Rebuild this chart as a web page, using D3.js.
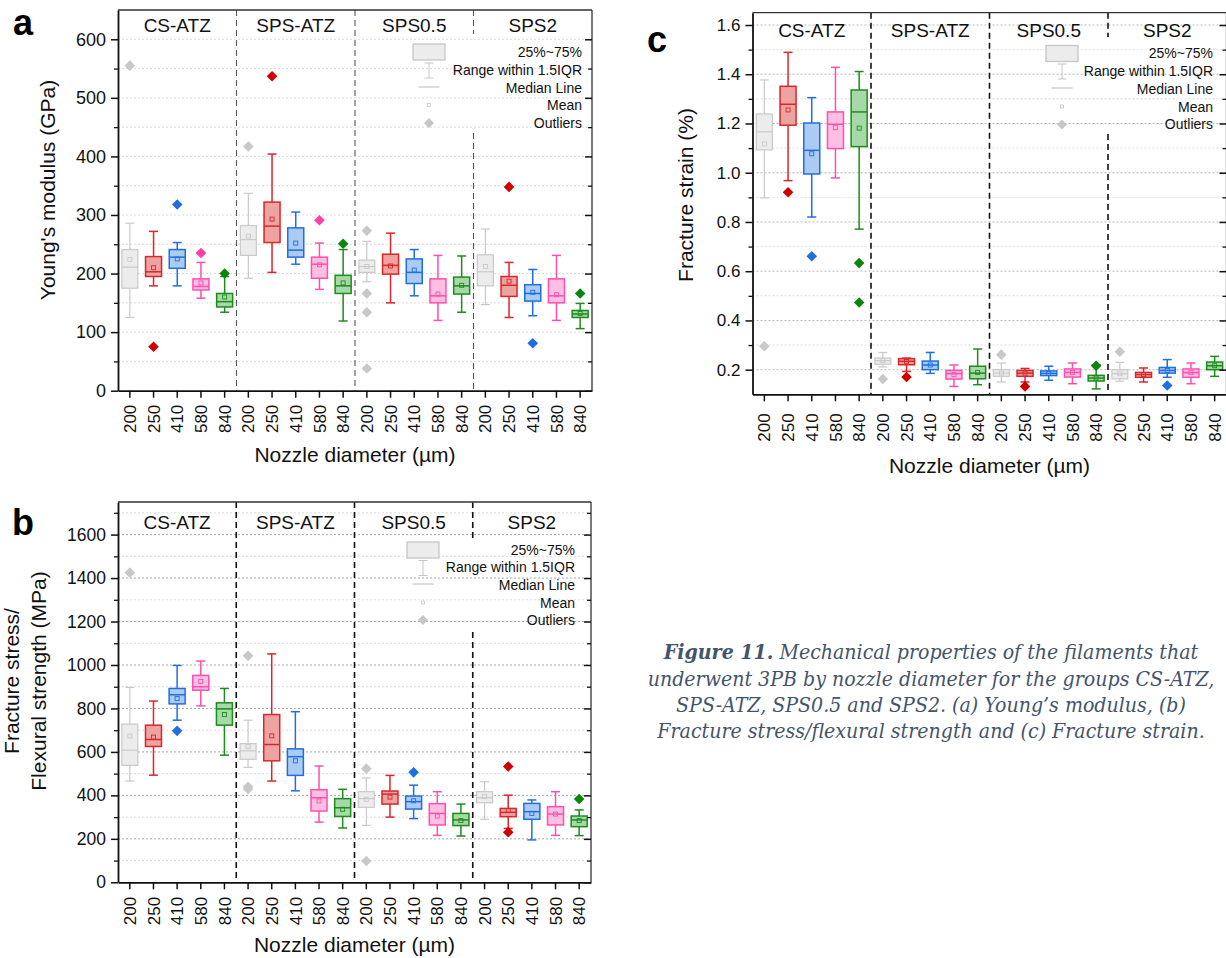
<!DOCTYPE html>
<html>
<head>
<meta charset="utf-8">
<script src="https://cdn.jsdelivr.net/npm/d3@7"></script>
<style>
  body { margin: 0; background: #fff; }
  svg { display: block; }
</style>
</head>
<body>
<svg id="fig" width="1226" height="958"></svg>
<script>
const groups = ["CS-ATZ", "SPS-ATZ", "SPS0.5", "SPS2"];
const nozzles = ["200", "250", "410", "580", "840"];
const categories = groups.flatMap(g => nozzles.map(n => g + " " + n));

// colours per nozzle: line, box fill, outlier
const lineColors = ["#c9c9c9", "#d9262b", "#1f6fe0", "#ff4fae", "#1c8c1c"];
const fillColors = ["#ececec", "#eea3a3", "#abcbf3", "#ffbfe2", "#a7d8a7"];
const outColors  = ["#c8c8c8", "#d10000", "#1f6fe0", "#ff3fa6", "#0c850c"];

// (a) Young's modulus, GPa
const ymLow  = [125, 179, 179, 158, 134, 192, 202, 216, 173, 119, 186, 150, 162, 120, 134, 147, 125, 128, 120, 106];
const ymQ1   = [175, 195, 209, 172, 143, 231, 253, 228, 192, 166, 202, 199, 183, 150, 165, 179, 161, 153, 150, 125];
const ymMed  = [211, 203, 228, 178, 152, 258, 281, 240, 216, 179, 212, 214, 202, 162, 179, 203, 180, 166, 162, 131];
const ymQ3   = [241, 229, 241, 191, 166, 282, 322, 278, 228, 197, 223, 233, 225, 191, 194, 232, 195, 181, 191, 137];
const ymHigh = [286, 272, 253, 219, 195, 337, 404, 305, 252, 241, 255, 269, 241, 231, 230, 276, 219, 207, 231, 149];
const ymMean = [224, 210, 225, 184, 160, 264, 293, 252, 215, 184, 212, 213, 206, 165, 180, 212, 187, 168, 164, 132];
const ymOut  = [[555], [75], [318], [235], [200], [417], [537], [], [291], [251],
                [273, 166, 134, 38], [], [], [], [], [], [348], [81], [], [166]];
const ymTicks = [0, 100, 200, 300, 400, 500, 600];
const ymMinor = [50, 150, 250, 350, 450, 550];

// (b) Fracture stress / flexural strength, MPa
const fsLow  = [466, 493, 746, 812, 585, 529, 466, 421, 277, 250, 262, 300, 293, 216, 213, 290, 248, 195, 216, 215];
const fsQ1   = [538, 625, 821, 884, 723, 566, 559, 492, 328, 303, 345, 360, 337, 264, 261, 366, 302, 290, 264, 256];
const fsMed  = [608, 657, 863, 900, 798, 605, 634, 578, 389, 343, 385, 406, 371, 317, 287, 389, 322, 325, 314, 287];
const fsQ3   = [728, 723, 892, 952, 826, 638, 772, 614, 426, 385, 417, 420, 397, 362, 317, 417, 340, 363, 348, 305];
const fsHigh = [897, 834, 998, 1018, 892, 746, 1051, 785, 535, 428, 480, 492, 447, 417, 360, 463, 401, 379, 417, 333];
const fsMean = [673, 668, 846, 924, 772, 624, 674, 559, 374, 336, 382, 392, 375, 305, 284, 394, 330, 317, 314, 284];
const fsOut  = [[1425], [], [697], [], [], [1042, 440, 429], [], [], [], [],
                [523, 98], [], [506], [], [], [], [533, 230], [], [], [383]];
const fsTicks = [0, 200, 400, 600, 800, 1000, 1200, 1400, 1600];
const fsMinor = [100, 300, 500, 700, 900, 1100, 1300, 1500, 1700];

// (c) Fracture strain, %
const stLow  = [0.898, 0.968, 0.820, 0.979, 0.771, 0.211, 0.193, 0.185, 0.132, 0.139, 0.150, 0.150, 0.157, 0.143, 0.122, 0.153, 0.150, 0.169, 0.143, 0.173];
const stQ1   = [1.093, 1.193, 0.995, 1.098, 1.106, 0.222, 0.220, 0.200, 0.162, 0.163, 0.173, 0.173, 0.176, 0.170, 0.154, 0.163, 0.169, 0.186, 0.169, 0.200];
const stMed  = [1.166, 1.278, 1.091, 1.197, 1.247, 0.237, 0.234, 0.219, 0.184, 0.186, 0.186, 0.186, 0.185, 0.189, 0.166, 0.184, 0.180, 0.197, 0.188, 0.216];
const stQ3   = [1.239, 1.351, 1.202, 1.247, 1.336, 0.247, 0.245, 0.235, 0.197, 0.214, 0.200, 0.197, 0.195, 0.203, 0.177, 0.200, 0.189, 0.209, 0.203, 0.231];
const stHigh = [1.377, 1.489, 1.305, 1.428, 1.411, 0.270, 0.247, 0.270, 0.219, 0.284, 0.227, 0.205, 0.214, 0.227, 0.220, 0.230, 0.207, 0.241, 0.227, 0.254];
const stMean = [1.117, 1.255, 1.077, 1.183, 1.181, 0.237, 0.234, 0.219, 0.180, 0.189, 0.186, 0.186, 0.185, 0.189, 0.166, 0.184, 0.180, 0.197, 0.188, 0.216];
const stOut  = [[0.295], [0.921], [0.661], [], [0.633, 0.473], [0.162], [0.170], [], [], [],
                [0.261], [0.132], [], [], [0.216], [0.273], [], [0.136], [], []];
const stTicks = [0.2, 0.4, 0.6, 0.8, 1.0, 1.2, 1.4, 1.6];
const stMinor = [0.3, 0.5, 0.7, 0.9, 1.1, 1.3, 1.5];

const legendLabels = ["25%~75%", "Range within 1.5IQR", "Median Line", "Mean", "Outliers"];
const captionLines = [
  ["Figure 11.", " Mechanical properties of the filaments that"],
  ["", "underwent 3PB by nozzle diameter for the groups CS-ATZ,"],
  ["", "SPS-ATZ, SPS0.5 and SPS2. (a) Young\u2019s modulus, (b)"],
  ["", "Fracture stress/flexural strength and (c) Fracture strain."]
];

const FONT = "'Liberation Sans', Arial, sans-serif";
const SERIF = "'DejaVu Serif Condensed', 'DejaVu Serif', serif";
const svg = d3.select("#fig");

function diamond(cx, cy, r) {
  return `M${cx},${cy - r}L${cx + r},${cy}L${cx},${cy + r}L${cx - r},${cy}Z`;
}

function drawPanel(p) {
  const g = svg.append("g");
  const x = d3.scaleBand().domain(d3.range(categories.length)).range([p.left, p.right]);
  const y = d3.scaleLinear().domain(p.domain).range([p.bottom, p.top]);
  const bw = 16, cw = 9;

  // grid
  g.append("g").selectAll("line").data(p.minor).join("line")
    .attr("x1", p.left).attr("x2", p.right)
    .attr("y1", d => y(d)).attr("y2", d => y(d))
    .attr("stroke", "#dcdcdc").attr("stroke-width", 1).attr("stroke-dasharray", "2,2");
  g.append("g").selectAll("line").data(p.ticks.filter(d => d > p.domain[0])).join("line")
    .attr("x1", p.left).attr("x2", p.right)
    .attr("y1", d => y(d)).attr("y2", d => y(d))
    .attr("stroke", p.majorGrid).attr("stroke-width", 1).attr("stroke-dasharray", "2,2");

  // group dividers (the last one leaves room for the legend)
  for (let i = 1; i < groups.length; i++) {
    const dx = p.left + x.step() * nozzles.length * i;
    const segs = i === 3 ? [[p.top, p.gap[0]], [p.gap[1], p.bottom]] : [[p.top, p.bottom]];
    segs.forEach(s => g.append("line")
      .attr("x1", dx).attr("x2", dx).attr("y1", s[0]).attr("y2", s[1])
      .attr("stroke", p.divColor).attr("stroke-width", p.divWidth).attr("stroke-dasharray", "6,4"));
  }

  // boxes
  const boxes = g.append("g").selectAll("g").data(d3.range(categories.length)).join("g");
  boxes.each(function (i) {
    const b = d3.select(this);
    const cx = x(i) + x.bandwidth() / 2;
    const c = lineColors[i % 5], f = fillColors[i % 5];
    const sw = i % 5 === 0 ? 1.2 : 1.5;
    b.append("line").attr("x1", cx).attr("x2", cx).attr("y1", y(p.high[i])).attr("y2", y(p.q3[i]))
      .attr("stroke", c).attr("stroke-width", sw);
    b.append("line").attr("x1", cx).attr("x2", cx).attr("y1", y(p.q1[i])).attr("y2", y(p.low[i]))
      .attr("stroke", c).attr("stroke-width", sw);
    [p.high[i], p.low[i]].forEach(v => b.append("line")
      .attr("x1", cx - cw / 2).attr("x2", cx + cw / 2).attr("y1", y(v)).attr("y2", y(v))
      .attr("stroke", c).attr("stroke-width", sw));
    b.append("rect").attr("x", cx - bw / 2).attr("y", y(p.q3[i]))
      .attr("width", bw).attr("height", Math.max(1, y(p.q1[i]) - y(p.q3[i])))
      .attr("fill", f).attr("stroke", c).attr("stroke-width", sw);
    b.append("line").attr("x1", cx - bw / 2).attr("x2", cx + bw / 2)
      .attr("y1", y(p.med[i])).attr("y2", y(p.med[i]))
      .attr("stroke", c).attr("stroke-width", sw);
    b.append("rect").attr("x", cx - 2).attr("y", y(p.mean[i]) - 2).attr("width", 4).attr("height", 4)
      .attr("fill", "none").attr("stroke", c).attr("stroke-width", 0.9);
    p.out[i].forEach(v => b.append("path").attr("d", diamond(cx, y(v), 5.3)).attr("fill", outColors[i % 5]));
  });

  // frame
  g.append("line").attr("x1", p.left).attr("x2", p.right).attr("y1", p.top).attr("y2", p.top)
    .attr("stroke", "#333").attr("stroke-width", 1.3);
  g.append("line").attr("x1", p.right).attr("x2", p.right).attr("y1", p.top).attr("y2", p.bottom)
    .attr("stroke", "#333").attr("stroke-width", 1.3);

  // left axis
  const yAxis = g.append("g").attr("transform", `translate(${p.left},0)`)
    .call(d3.axisLeft(y).tickValues(p.ticks).tickSize(7).tickSizeOuter(0).tickPadding(5)
      .tickFormat(d => p.fmt(d)));
  yAxis.select(".domain").attr("stroke", "#111").attr("stroke-width", 1.8);
  yAxis.selectAll(".tick line").attr("stroke", "#111").attr("stroke-width", 1.5);
  yAxis.selectAll("text").attr("font-family", FONT).attr("font-size", p.tickFont).attr("fill", "#111");
  g.append("g").attr("transform", `translate(${p.left},0)`)
    .call(d3.axisLeft(y).tickValues(p.minor).tickSize(4).tickFormat(""))
    .call(a => a.select(".domain").remove())
    .selectAll("line").attr("stroke", "#111").attr("stroke-width", 1.3);

  // right axis, ticks inside
  const rAxis = g.append("g").attr("transform", `translate(${p.right},0)`)
    .call(d3.axisLeft(y).tickValues(p.ticks).tickSize(7).tickFormat(""));
  rAxis.select(".domain").remove();
  rAxis.selectAll("line").attr("stroke", "#111").attr("stroke-width", 1.5);
  g.append("g").attr("transform", `translate(${p.right},0)`)
    .call(d3.axisLeft(y).tickValues(p.minor).tickSize(4).tickFormat(""))
    .call(a => a.select(".domain").remove())
    .selectAll("line").attr("stroke", "#111").attr("stroke-width", 1.3);

  // bottom axis
  const xAxis = g.append("g").attr("transform", `translate(0,${p.bottom})`)
    .call(d3.axisBottom(x).tickSize(7).tickSizeOuter(0).tickFormat(i => nozzles[i % 5]));
  xAxis.select(".domain").attr("stroke", "#111").attr("stroke-width", 1.8);
  xAxis.selectAll(".tick line").attr("stroke", "#111").attr("stroke-width", 1.5);
  xAxis.selectAll("text")
    .attr("font-family", FONT).attr("font-size", 17).attr("fill", "#111")
    .attr("transform", "rotate(-90)").attr("text-anchor", "end")
    .attr("x", -p.xLabelGap).attr("y", 0).attr("dy", "0.36em");

  // group labels
  groups.forEach((name, k) => g.append("text")
    .attr("x", p.left + x.step() * nozzles.length * (k + 0.5)).attr("y", p.groupY)
    .attr("text-anchor", "middle").attr("font-family", FONT).attr("font-size", 19).attr("fill", "#111")
    .text(name));

  // titles
  g.append("text").attr("x", (p.left + p.right) / 2).attr("y", p.xTitleY)
    .attr("text-anchor", "middle").attr("font-family", FONT).attr("font-size", 21).attr("fill", "#111")
    .text("Nozzle diameter (\u00b5m)");
  p.yTitle.forEach((t, k) => g.append("text")
    .attr("transform", `translate(${p.yTitleX[k]},${p.yTitleY}) rotate(-90)`)
    .attr("text-anchor", "middle").attr("font-family", FONT).attr("font-size", 21).attr("fill", "#111")
    .text(t));
  g.append("text").attr("x", p.letter[0]).attr("y", p.letter[1])
    .attr("font-family", FONT).attr("font-size", 36).attr("font-weight", "bold").attr("fill", "#000")
    .text(p.name);

  // legend
  const L = p.legend, lc = "#c6c6c6", lx = L.x + 16;
  const lg = g.append("g");
  lg.append("rect").attr("x", L.x).attr("y", L.rows[0] - 8).attr("width", 32).attr("height", 16)
    .attr("fill", "#ececec").attr("stroke", lc).attr("stroke-width", 1.3);
  lg.append("line").attr("x1", lx).attr("x2", lx).attr("y1", L.rows[1] - 7).attr("y2", L.rows[1] + 8).attr("stroke", lc);
  lg.append("line").attr("x1", lx - 4.5).attr("x2", lx + 4.5).attr("y1", L.rows[1] - 7).attr("y2", L.rows[1] - 7).attr("stroke", lc);
  lg.append("line").attr("x1", lx - 4.5).attr("x2", lx + 4.5).attr("y1", L.rows[1] + 8).attr("y2", L.rows[1] + 8).attr("stroke", lc);
  lg.append("line").attr("x1", lx - 10.5).attr("x2", lx + 10.5).attr("y1", L.rows[2] - 1).attr("y2", L.rows[2] - 1).attr("stroke", lc).attr("stroke-width", 1.2);
  lg.append("rect").attr("x", lx - 1.5).attr("y", L.rows[3] - 2).attr("width", 3).attr("height", 3)
    .attr("fill", "none").attr("stroke", lc).attr("stroke-width", 0.8);
  lg.append("path").attr("d", diamond(lx, L.rows[4], 5)).attr("fill", lc);
  legendLabels.forEach((t, k) => lg.append("text")
    .attr("x", L.textX).attr("y", L.rows[k]).attr("dy", "0.35em")
    .attr("text-anchor", "end").attr("font-family", FONT).attr("font-size", 14).attr("fill", "#111")
    .text(t));
}

drawPanel({
  name: "a", left: 118, right: 592, top: 10, bottom: 390.7, domain: [0, 650],
  ticks: ymTicks, minor: ymMinor, fmt: d => d, tickFont: 18, majorGrid: "#dcdcdc",
  low: ymLow, q1: ymQ1, med: ymMed, q3: ymQ3, high: ymHigh, mean: ymMean, out: ymOut,
  divColor: "#555", divWidth: 1.1, gap: [34, 133],
  xLabelGap: 14, groupY: 31.7, xTitleY: 461.5,
  yTitle: ["Young's modulus (GPa)"], yTitleX: [55], yTitleY: 190,
  letter: [13, 35],
  legend: { x: 413, textX: 582, rows: [52, 70, 88, 105.5, 123] }
});

drawPanel({
  name: "b", left: 118, right: 591, top: 502, bottom: 882.3, domain: [0, 1750],
  ticks: fsTicks, minor: fsMinor, fmt: d => d, tickFont: 17.5, majorGrid: "#a8a8a8",
  low: fsLow, q1: fsQ1, med: fsMed, q3: fsQ3, high: fsHigh, mean: fsMean, out: fsOut,
  divColor: "#111", divWidth: 1.6, gap: [538, 632],
  xLabelGap: 14.5, groupY: 529.3, xTitleY: 952,
  yTitle: ["Fracture stress/", "Flexural strength (MPa)"], yTitleX: [18.5, 46], yTitleY: 681,
  letter: [12, 535],
  legend: { x: 407, textX: 575, rows: [550, 567.5, 585, 603, 620] }
});

drawPanel({
  name: "c", left: 752.5, right: 1226.5, top: 12.7, bottom: 394.3, domain: [0.1, 1.65],
  ticks: stTicks, minor: stMinor, fmt: d => d.toFixed(1), tickFont: 17, majorGrid: "#b8b8b8",
  low: stLow, q1: stQ1, med: stMed, q3: stQ3, high: stHigh, mean: stMean, out: stOut,
  divColor: "#111", divWidth: 1.6, gap: [37, 134],
  xLabelGap: 19, groupY: 36.7, xTitleY: 473,
  yTitle: ["Fracture strain (%)"], yTitleX: [693], yTitleY: 195,
  letter: [647, 52],
  legend: { x: 1046, textX: 1213, rows: [53.5, 71, 89, 107, 124.5] }
});

// caption: font size fitted so the widest line spans about 567px
const capY = [659, 686, 712, 738];
const probe = svg.append("text").attr("font-family", SERIF).attr("font-style", "italic").attr("font-size", 20);
const widths = captionLines.map(ln => {
  probe.text("");
  if (ln[0]) probe.append("tspan").attr("font-weight", "bold").text(ln[0]);
  probe.append("tspan").text(ln[1]);
  return probe.node().getComputedTextLength();
});
probe.remove();
const capSize = 20 * 567 / d3.max(widths);
const cap = svg.append("text").attr("text-anchor", "middle").attr("fill", "#44546a")
  .attr("font-family", SERIF).attr("font-style", "italic").attr("font-size", capSize);
captionLines.forEach((ln, k) => {
  const t = cap.append("tspan").attr("x", 931).attr("y", capY[k]);
  if (ln[0]) t.append("tspan").attr("font-weight", "bold").text(ln[0]);
  t.append("tspan").text(ln[1]);
});
</script>
</body>
</html>
